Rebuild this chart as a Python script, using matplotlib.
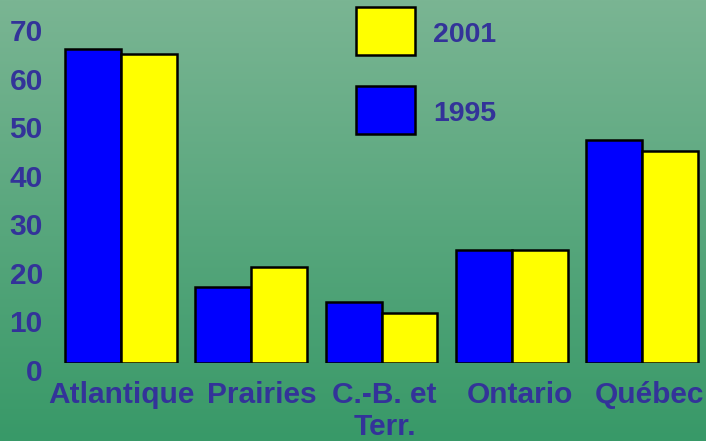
import numpy as np
import matplotlib
matplotlib.use("Agg")
import matplotlib.pyplot as plt
import matplotlib.transforms as mtransforms
from matplotlib.patches import Patch

categories = ["Atlantique", "Prairies", "C.-B. et\nTerr.", "Ontario", "Québec"]
values_1995 = [64.6, 15.6, 12.6, 23.3, 46.0]
values_2001 = [63.7, 19.7, 10.2, 23.3, 43.6]
yticks = [0, 10, 20, 30, 40, 50, 60, 70]

TXT = "#333399"
FONT = "Liberation Sans"
W, H = 706, 441
FS = 21.5

fig = plt.figure(figsize=(W / 100, H / 100), dpi=100)

# background gradient
bg = fig.add_axes([0, 0, 1, 1], zorder=0)
top = np.array([122, 181, 147]) / 255
bot = np.array([56, 153, 104]) / 255
t = np.linspace(0, 1, 256)[:, None]
grad = (top * (1 - t) + bot * t)[:, None, :]
bg.imshow(grad, aspect="auto", extent=[0, 1, 0, 1], interpolation="bilinear")
bg.set_axis_off()

ax = fig.add_axes([56 / W, (H - 363) / H, 651 / W, 340 / H], zorder=1)
ax.patch.set_alpha(0)
x = np.arange(len(categories))
bw = 0.43
ax.bar(x - bw / 2, values_1995, bw, color="#0000FF", edgecolor="black", linewidth=1.8, label="1995")
ax.bar(x + bw / 2, values_2001, bw, color="#FFFF00", edgecolor="black", linewidth=1.8, label="2001")
ax.set_xlim(-0.5, len(categories) - 0.5)
ax.set_ylim(0, 70)
for s in ax.spines.values():
    s.set_visible(False)
ax.set_yticks(yticks)
ax.set_yticklabels([str(v) for v in yticks])
ax.set_xticks(x)
ax.set_xticklabels(categories, linespacing=1.17)
ax.tick_params(length=0)
ax.tick_params(axis="y", pad=9.5)
ax.tick_params(axis="x", pad=13)
for lab in ax.get_yticklabels():
    lab.set_fontfamily(FONT)
    lab.set_fontweight("bold")
    lab.set_fontsize(FS)
    lab.set_color(TXT)
    lab.set_transform(lab.get_transform() + mtransforms.ScaledTranslation(0, -7 / 100, fig.dpi_scale_trans))
label_shift_px = [0, 11, 3, 8, 8]
for lab, dx in zip(ax.get_xticklabels(), label_shift_px):
    lab.set_fontfamily(FONT)
    lab.set_fontweight("bold")
    lab.set_fontsize(FS)
    lab.set_color(TXT)
    lab.set_transform(lab.get_transform() + mtransforms.ScaledTranslation(dx / 100, 0, fig.dpi_scale_trans))

handles = [Patch(facecolor="#FFFF00", edgecolor="black", linewidth=1.8, label="2001"),
           Patch(facecolor="#0000FF", edgecolor="black", linewidth=1.8, label="1995")]
fs_leg = 20.5
fpx = fs_leg * 100 / 72
leg = fig.legend(handles=handles, loc="upper left", bbox_to_anchor=(356 / W, 1 - 7 / H),
                 frameon=False, borderpad=0, borderaxespad=0,
                 handlelength=59 / fpx, handleheight=2.21, labelspacing=31 / fpx, handletextpad=18 / fpx,
                 prop={"family": FONT, "weight": "bold", "size": fs_leg})
for tx in leg.get_texts():
    tx.set_color(TXT)
    tx.set_transform(tx.get_transform() + mtransforms.ScaledTranslation(0, -2 / 100, fig.dpi_scale_trans))

fig.savefig("out.png", dpi=100)
